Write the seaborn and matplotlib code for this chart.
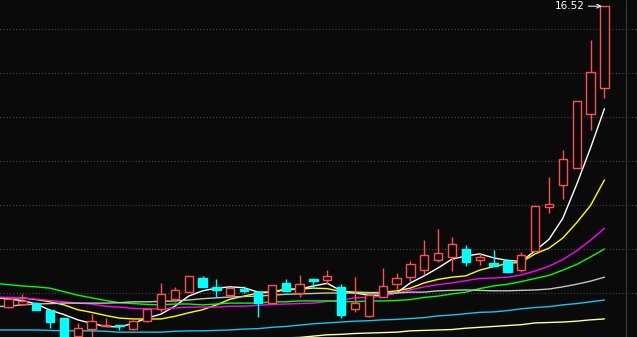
import numpy as np
import pandas as pd
import matplotlib
matplotlib.use("Agg")
import matplotlib.pyplot as plt
import seaborn as sns
from matplotlib.lines import Line2D

# ---- daily candles (price) ----
opens = [9.68, 9.75, 9.77, 9.61, 9.43, 9.02, 9.18, 9.24, 9.28, 9.18, 9.36, 9.64, 9.86, 10.02, 10.34,
         10.14, 9.95, 10.09, 10.02, 9.77, 10.23, 10.00, 10.31, 10.30, 10.14, 9.64, 9.48, 9.91, 10.20,
         10.36, 10.52, 10.75, 10.82, 11.00, 10.75, 10.68, 10.73, 10.52, 10.95, 11.95, 12.45, 12.84,
         14.07, 14.66]
highs = [9.86, 9.98, 9.80, 9.61, 9.43, 9.32, 9.52, 9.43, 9.28, 9.39, 9.66, 10.23, 10.14, 10.39, 10.39,
         10.32, 10.11, 10.16, 10.05, 10.18, 10.32, 10.41, 10.31, 10.52, 10.20, 10.36, 9.95, 10.57, 10.45,
         10.73, 11.20, 11.45, 11.27, 11.09, 10.91, 10.98, 10.77, 10.93, 11.98, 12.64, 13.25, 14.36,
         15.75, 16.52]
lows = [9.66, 9.75, 9.61, 9.20, 8.93, 9.00, 9.00, 9.24, 9.16, 9.16, 9.34, 9.57, 9.80, 10.02, 10.14,
        9.91, 9.91, 10.00, 9.45, 9.77, 10.05, 9.91, 10.11, 10.20, 9.43, 9.57, 9.45, 9.91, 10.09,
        10.27, 10.41, 10.70, 10.50, 10.61, 10.64, 10.61, 10.45, 10.48, 10.95, 11.82, 12.14, 12.84,
        13.70, 14.43]
closes = [9.86, 9.82, 9.61, 9.34, 8.98, 9.20, 9.36, 9.28, 9.24, 9.36, 9.64, 9.98, 10.07, 10.39, 10.14,
          10.07, 10.11, 10.05, 9.77, 10.18, 10.05, 10.20, 10.28, 10.39, 9.50, 9.77, 9.95, 10.16, 10.34,
          10.66, 10.86, 10.91, 11.11, 10.70, 10.82, 10.61, 10.48, 10.86, 11.98, 12.02, 13.05, 14.36,
          15.02, 16.52]

# ---- moving averages, from the day before the first candle to the last one ----
ma5 = [9.91, 9.86, 9.83, 9.75, 9.61, 9.51, 9.39, 9.31, 9.24, 9.23, 9.31, 9.43, 9.52, 9.70, 9.93,
       10.05, 10.11, 10.14, 10.12, 10.02, 10.02, 10.09, 10.09, 10.16, 10.22, 10.05, 10.00, 9.95, 9.95,
       10.00, 10.23, 10.39, 10.57, 10.77, 10.84, 10.89, 10.80, 10.74, 10.72, 10.96, 11.22, 11.70,
       12.47, 13.30, 14.19]
ma10 = [9.89, 9.89, 9.89, 9.85, 9.80, 9.73, 9.62, 9.56, 9.49, 9.43, 9.41, 9.41, 9.41, 9.47, 9.55,
        9.62, 9.73, 9.86, 9.93, 10.00, 10.02, 10.07, 10.09, 10.11, 10.10, 10.03, 10.02, 10.01, 10.01,
        10.05, 10.11, 10.23, 10.31, 10.36, 10.39, 10.52, 10.60, 10.67, 10.70, 10.89, 11.02, 11.25,
        11.60, 11.99, 12.57]
ma20 = [9.91, 9.90, 9.89, 9.86, 9.83, 9.80, 9.77, 9.75, 9.70, 9.68, 9.65, 9.64, 9.64, 9.66, 9.68,
        9.68, 9.68, 9.70, 9.70, 9.72, 9.74, 9.75, 9.76, 9.77, 9.81, 9.84, 9.89, 9.90, 9.93,
        10.00, 10.07, 10.14, 10.19, 10.23, 10.28, 10.33, 10.34, 10.36, 10.41, 10.50, 10.61, 10.76,
        10.96, 11.20, 11.47]
ma30 = [10.22, 10.19, 10.16, 10.14, 10.11, 10.03, 9.95, 9.89, 9.83, 9.78, 9.76, 9.74, 9.73, 9.75, 9.75,
        9.73, 9.75, 9.77, 9.77, 9.77, 9.80, 9.80, 9.82, 9.82, 9.82, 9.81, 9.80, 9.82, 9.82,
        9.83, 9.85, 9.90, 9.93, 9.98, 10.02, 10.10, 10.16, 10.20, 10.26, 10.33, 10.40, 10.52,
        10.65, 10.82, 11.00]
ma60 = [9.69, 9.70, 9.73, 9.75, 9.76, 9.77, 9.77, 9.77, 9.77, 9.78, 9.80, 9.80, 9.81, 9.82, 9.84,
        9.87, 9.89, 9.91, 9.92, 9.93, 9.95, 9.97, 9.98, 9.99, 10.00, 10.00, 10.00, 10.00, 10.00,
        10.00, 10.02, 10.02, 10.05, 10.06, 10.07, 10.06, 10.05, 10.05, 10.06, 10.07, 10.09, 10.14,
        10.20, 10.27, 10.36]
ma120 = [9.16, 9.16, 9.16, 9.16, 9.15, 9.14, 9.14, 9.14, 9.13, 9.11, 9.11, 9.11, 9.11, 9.13, 9.14,
         9.14, 9.15, 9.16, 9.18, 9.19, 9.22, 9.24, 9.27, 9.30, 9.32, 9.34, 9.36, 9.37, 9.39,
         9.40, 9.42, 9.44, 9.48, 9.50, 9.53, 9.56, 9.57, 9.60, 9.64, 9.67, 9.69, 9.73,
         9.76, 9.80, 9.84]
ma250 = [None, None, None, None, None, None, None, None, None, None, None, None, None, None, None,
         None, None, None, None, None, 8.97, 8.98, 8.99, 9.02, 9.05, 9.06, 9.08, 9.09, 9.10,
         9.11, 9.14, 9.15, 9.16, 9.17, 9.20, 9.22, 9.24, 9.26, 9.28, 9.32, 9.33, 9.34,
         9.36, 9.39, 9.41]

ma_names = ["MA5", "MA10", "MA20", "MA30", "MA60", "MA120", "MA250"]
ma_values = [ma5, ma10, ma20, ma30, ma60, ma120, ma250]
ma_colors = ["#ffffff", "#ffff00", "#ff00ff", "#00ff00", "#c4c4c4", "#10c8f0", "#ffff9a"]
grid_levels = [10, 11, 12, 13, 14, 15, 16]

bg = "#0a0a0a"
red = "#ff5050"
cyan = "#00ffff"

sns.set_style("dark", {"axes.facecolor": bg, "figure.facecolor": bg})
plt.rcParams["font.family"] = ["DejaVu Sans"]

fig = plt.figure(figsize=(6.37, 3.37), dpi=100)
fig.patch.set_facecolor(bg)
ax = fig.add_axes([0, 0, 1, 1])
ax.set_facecolor(bg)

n = len(closes)
days = np.arange(n)
ma_days = np.arange(-1, n)

df = pd.DataFrame({
    "day": np.tile(ma_days, len(ma_names)),
    "value": np.concatenate([np.array(v, dtype=float) for v in ma_values]),
    "line": np.repeat(ma_names, len(ma_days)),
})
sns.lineplot(data=df, x="day", y="value", hue="line", hue_order=ma_names,
             palette=dict(zip(ma_names, ma_colors)), estimator=None, sort=False,
             linewidth=1.0, legend=False, ax=ax, zorder=2)

o = np.array(opens); c = np.array(closes); h = np.array(highs); l = np.array(lows)
up = c >= o
edge_cols = np.where(up, red, cyan)
face_cols = np.where(up, bg, cyan)
ax.vlines(days, l, h, colors=edge_cols, linewidth=1.0, zorder=3)
ax.bar(days, np.abs(c - o), bottom=np.minimum(o, c), width=0.6,
       color=face_cols, edgecolor=edge_cols, linewidth=1.0, zorder=4)

ax.annotate(f"{highs[-1]:.2f}", xy=(days[-1], highs[-1]), xytext=(-14, 0),
            textcoords="offset points", ha="right", va="center", color="white",
            fontsize=7.5,
            arrowprops=dict(arrowstyle="->", color="white", lw=0.7,
                            shrinkA=0, shrinkB=2, mutation_scale=7),
            zorder=6)

ax.set_xlim(-0.613, 45.35)
ax.set_ylim(9.0, 16.66)
ax.set_yticks(grid_levels)
ax.set_xticks([])
ax.grid(False)
ax.yaxis.grid(True, color="#5e5e5e", linestyle=(0, (0.7, 2.2)), linewidth=0.8)
ax.set_axisbelow(True)
ax.tick_params(left=False, bottom=False, labelleft=False, labelbottom=False)
ax.set_xlabel("")
ax.set_ylabel("")
for s in ax.spines.values():
    s.set_visible(False)

fig.add_artist(Line2D([625.5 / 637] * 2, [0, 1], transform=fig.transFigure,
                      color="#3a3a3a", linewidth=0.8))

fig.savefig("out.png", dpi=100, facecolor=bg)
